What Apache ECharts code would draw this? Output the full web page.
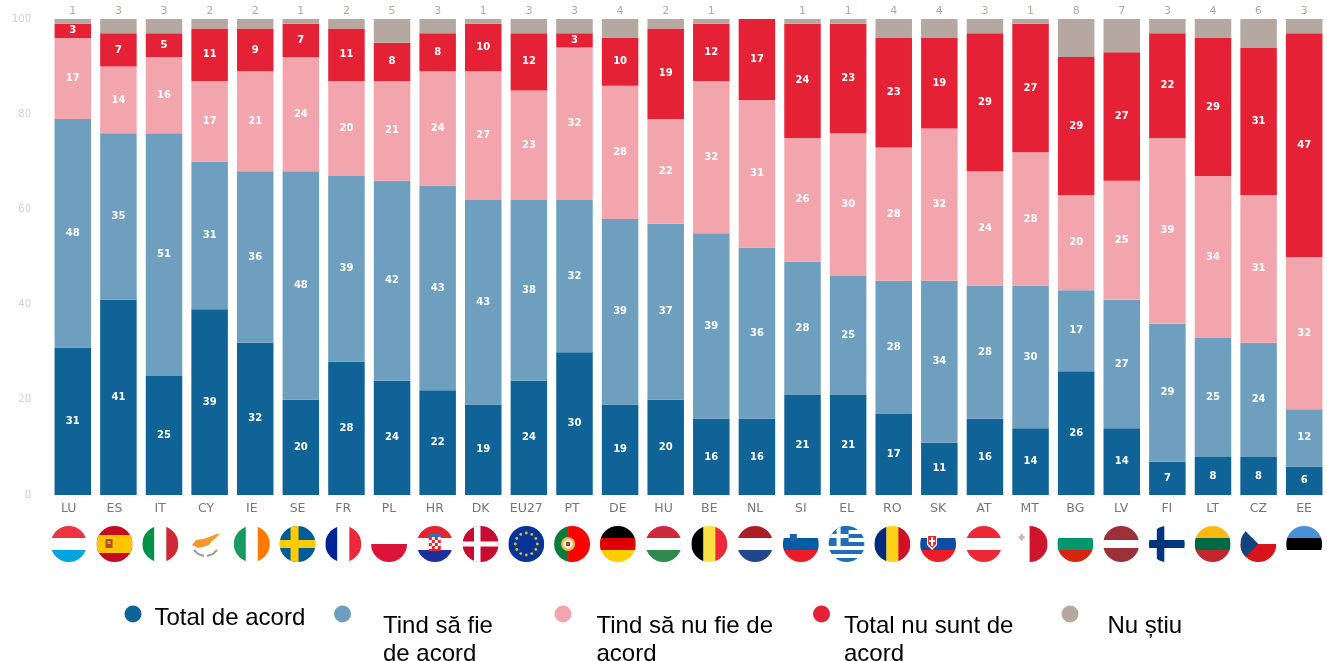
<!DOCTYPE html>
<html>
<head>
<meta charset="utf-8">
<title>Chart</title>
<style>
  html, body { margin: 0; padding: 0; background: #fff; overflow: hidden; }
  #chart { width: 1327px; height: 661px; }
</style>
<script src="https://cdn.jsdelivr.net/npm/echarts@6/dist/echarts.min.js"></script>
</head>
<body>
<div id="chart"></div>
<script>
var categories = ["LU","ES","IT","CY","IE","SE","FR","PL","HR","DK","EU27","PT","DE","HU","BE","NL","SI","EL","RO","SK","AT","MT","BG","LV","FI","LT","CZ","EE"];
var totalAgree = [31,41,25,39,32,20,28,24,22,19,24,30,19,20,16,16,21,21,17,11,16,14,26,14,7,8,8,6];
var tendAgree = [48,35,51,31,36,48,39,42,43,43,38,32,39,37,39,36,28,25,28,34,28,30,17,27,29,25,24,12];
var tendDisagree = [17,14,16,17,21,24,20,21,24,27,23,32,28,22,32,31,26,30,28,32,24,28,20,25,39,34,31,32];
var totalDisagree = [3,7,5,11,9,7,11,8,8,10,12,3,10,19,12,17,24,23,23,19,29,27,29,27,22,29,31,47];
var dontKnow = [1,3,3,2,2,1,2,5,3,1,3,3,4,2,1,0,1,1,4,4,3,1,8,7,3,4,6,3];
var yTicks = [0,20,40,60,80,100];
var seriesNames = ["Total de acord","Tind să fie de acord","Tind să nu fie de acord","Total nu sunt de acord","Nu știu"];
var legendLabels = [["Total de acord"],["Tind să fie","de acord"],["Tind să nu fie de","acord"],["Total nu sunt de","acord"],["Nu știu"]];

var colors = ["#0f6397","#6e9fbf","#f3a5ae","#e52135","#b5a8a0"];
var labelFont = "'DejaVu Sans', sans-serif";
var R = 18;

function rect(x, y, w, h, fill) {
  return { type: "rect", shape: { x: x, y: y, width: w, height: h }, style: { fill: fill } };
}
function dot(x, y, r, fill) {
  return { type: "circle", shape: { cx: x, cy: y, r: r }, style: { fill: fill } };
}
function poly(points, fill) {
  return { type: "polygon", shape: { points: points }, style: { fill: fill } };
}
function hBands(list) {
  var h = (2 * R) / list.length;
  return list.map(function (c, i) { return rect(-R, -R + i * h, 2 * R, h + 0.3, c); });
}
function vBands(list) {
  var w = (2 * R) / list.length;
  return list.map(function (c, i) { return rect(-R + i * w, -R, w + 0.3, 2 * R, c); });
}
function cross(bg, fg, cx, vw, hw) {
  return [rect(-R, -R, 2 * R, 2 * R, bg), rect(cx - vw / 2, -R, vw, 2 * R, fg), rect(-R, -hw / 2, 2 * R, hw, fg)];
}
function euStars() {
  var out = [rect(-R, -R, 2 * R, 2 * R, "#0a3399")];
  for (var i = 0; i < 12; i++) {
    var a = (i * Math.PI) / 6;
    out.push(dot(11 * Math.cos(a), 11 * Math.sin(a), 1.4, "#d8c227"));
  }
  return out;
}
function greek() {
  var out = [];
  for (var i = 0; i < 9; i++) {
    out.push(rect(-R, -R + i * 4, 2 * R, 4.1, i % 2 ? "#ffffff" : "#1f6fb8"));
  }
  out.push(rect(-R, -R, 20, 20, "#1f6fb8"));
  out.push(rect(-10, -R, 4, 20, "#ffffff"));
  out.push(rect(-R, -10, 20, 4, "#ffffff"));
  return out;
}

// hand drawn round flags, local coords around the flag centre
var flags = {
  LU: hBands(["#ef3340","#ffffff","#00a3e0"]),
  ES: [rect(-R,-R,2*R,2*R,"#c60b1e"), rect(-R,-9,2*R,18,"#ffc400"), rect(-9,-5,7,9,"#a8502a"), rect(-7,-3,3,3,"#d9a441")],
  IT: vBands(["#009246","#ffffff","#ce2b37"]),
  CY: [poly([[-14,1],[-10,-4],[-3,-5],[3,-7],[8,-9],[14,-11],[10,-6],[6,-3],[3,1],[-3,3],[-8,4]],"#f39a2b"),
       { type: "polyline", shape: { points: [[-12,6],[-8,10],[-2,12]] }, style: { stroke: "#8aa587", fill: null, lineWidth: 2 } },
       { type: "polyline", shape: { points: [[11,6],[7,10],[1,12]] }, style: { stroke: "#8aa587", fill: null, lineWidth: 2 } }],
  IE: vBands(["#169b62","#ffffff","#ff7900"]),
  SE: cross("#005b99","#fecc00",-3,8,8),
  FR: vBands(["#002395","#ffffff","#ed2939"]),
  PL: hBands(["#ffffff","#dc143c"]),
  HR: [].concat(hBands(["#e4252f","#ffffff","#1c2f9c"]), [rect(-6,-10,12,3,"#3b6fb5"), rect(-6,-7,12,14,"#e4252f"), rect(-3,-7,3,3,"#ffffff"), rect(3,-7,3,3,"#ffffff"), rect(-6,-4,3,3,"#ffffff"), rect(0,-4,3,3,"#ffffff"), rect(-3,-1,3,3,"#ffffff"), rect(3,-1,3,3,"#ffffff"), rect(-6,2,3,3,"#ffffff"), rect(0,2,3,3,"#ffffff")]),
  DK: cross("#c60c30","#ffffff",-3.3,6.5,5),
  EU27: euStars(),
  PT: [rect(-R,-R,14,2*R,"#0b7a3b"), rect(-4,-R,22,2*R,"#ff0000"), dot(-4,0,7,"#e8c33f"), dot(-4,0,4.5,"#f2f2f2"), rect(-6,-2,4,4,"#c0392b")],
  DE: hBands(["#000000","#dd0000","#ffce00"]),
  HU: hBands(["#cd2a3e","#ffffff","#2d8a4e"]),
  BE: vBands(["#000000","#fae042","#ed2939"]),
  NL: hBands(["#ae1c28","#ffffff","#21468b"]),
  SI: [].concat(hBands(["#ffffff","#005da4","#ed1c24"]), [poly([[-11,-10],[-4,-10],[-4,-4],[-7.5,-1],[-11,-4]],"#1f5fb0")]),
  EL: greek(),
  RO: vBands(["#002b7f","#fcd116","#ce1126"]),
  SK: [].concat(hBands(["#ffffff","#0b4ea2","#ee1c25"]), [poly([[-11,-9],[-1,-9],[-1,1],[-6,6],[-11,1]],"#ffffff"), poly([[-10,-8],[-2,-8],[-2,0],[-6,4],[-10,0]],"#e4262c"), rect(-7,-7,2,9,"#ffffff"), rect(-9,-4,6,2,"#ffffff")]),
  AT: hBands(["#ed2939","#ffffff","#ed2939"]),
  MT: [rect(0,-R,R,2*R,"#cf142b"), rect(-11,-8,6,2.5,"#c9b5b5"), rect(-9.2,-10,2.5,6.5,"#c9b5b5")],
  BG: hBands(["#ffffff","#00966e","#d62612"]),
  LV: [rect(-R,-R,2*R,14,"#9e3039"), rect(-R,4,2*R,14,"#9e3039")],
  FI: cross("#ffffff","#003580",-6.3,7.5,8),
  LT: hBands(["#fdb913","#006a44","#c1272d"]),
  CZ: [rect(-R,0,2*R,R,"#d7141a"), poly([[-R,-R],[0,0],[-R,R]],"#11457e")],
  EE: hBands(["#4891d9","#000000","#ffffff"])
};

var chart = echarts.init(document.getElementById("chart"));

function barSeries(name, values, idx) {
  var isTop = idx === 4;
  return {
    name: name,
    type: "bar",
    stack: "total",
    barWidth: 36.5,
    data: values,
    itemStyle: { color: colors[idx] },
    label: {
      show: true,
      position: isTop ? "top" : "inside",
      distance: 2,
      color: isTop ? colors[4] : "#ffffff",
      fontFamily: labelFont,
      fontSize: isTop ? 11 : 10,
      fontWeight: isTop ? "normal" : "bold",
      formatter: function (p) { return p.value ? String(p.value) : ""; }
    }
  };
}

// legend entries sit at uneven places in the picture, so one legend each.
// the empty first line pushes the text down from the marker
var legendAt = [
  { left: 124.5, top: 596, textLeft: 8, drop: 8 },
  { left: 334, top: 560, textLeft: 27, drop: 52 },
  { left: 554.5, top: 560, textLeft: 20, drop: 52 },
  { left: 813, top: 560, textLeft: 9, drop: 52 },
  { left: 1061.5, top: 588, textLeft: 24, drop: 24 }
];

var option = {
  animation: false,
  backgroundColor: "#ffffff",
  grid: [
    { left: 50, top: 19, width: 1288, height: 476 },
    { left: 45.9, top: 495, width: 1292.2, height: 1 }
  ],
  xAxis: [
    { type: "category", gridIndex: 0, data: categories, show: false },
    {
      type: "category",
      gridIndex: 1,
      data: categories,
      axisLine: { show: false },
      axisTick: { show: false },
      axisLabel: { margin: 6, color: "#777777", fontFamily: labelFont, fontSize: 12.5, interval: 0 }
    }
  ],
  yAxis: [
    {
      type: "value",
      gridIndex: 0,
      min: yTicks[0],
      max: yTicks[yTicks.length - 1],
      interval: yTicks[1] - yTicks[0],
      splitLine: { show: false },
      axisLine: { show: false },
      axisTick: { show: false },
      axisLabel: { margin: 19, color: "#d6d0cb", fontFamily: labelFont, fontSize: 10 }
    },
    { type: "value", gridIndex: 1, min: 0, max: 1, show: false }
  ],
  legend: seriesNames.map(function (name, i) {
    var at = legendAt[i];
    return {
      data: [name],
      left: at.left,
      top: at.top,
      padding: 0,
      selectedMode: false,
      icon: "circle",
      itemWidth: 17,
      itemHeight: 17,
      formatter: function () {
        return ["{sp| }"].concat(legendLabels[i].map(function (t) { return "{t|" + t + "}"; })).join("\n");
      },
      textStyle: {
        padding: [0, 0, 0, at.textLeft],
        rich: {
          sp: { height: at.drop, lineHeight: at.drop, fontSize: 1 },
          t: {
            fontFamily: "'Liberation Sans', Arial, sans-serif",
            fontSize: 24,
            lineHeight: 28,
            color: "#000000"
          }
        }
      }
    };
  }),
  series: [
    barSeries(seriesNames[0], totalAgree, 0),
    barSeries(seriesNames[1], tendAgree, 1),
    barSeries(seriesNames[2], tendDisagree, 2),
    barSeries(seriesNames[3], totalDisagree, 3),
    barSeries(seriesNames[4], dontKnow, 4),
    {
      type: "custom",
      xAxisIndex: 1,
      yAxisIndex: 1,
      clip: false,
      silent: true,
      data: categories.map(function (c, i) { return [i, 0]; }),
      encode: { x: 0, y: 1 },
      renderItem: function (params, api) {
        var p = api.coord([api.value(0), 0]);
        return {
          type: "group",
          x: p[0],
          y: p[1] + 48,
          clipPath: { type: "circle", shape: { cx: 0, cy: 0, r: R } },
          children: flags[categories[params.dataIndex]]
        };
      }
    }
  ]
};

chart.setOption(option);
</script>
</body>
</html>
